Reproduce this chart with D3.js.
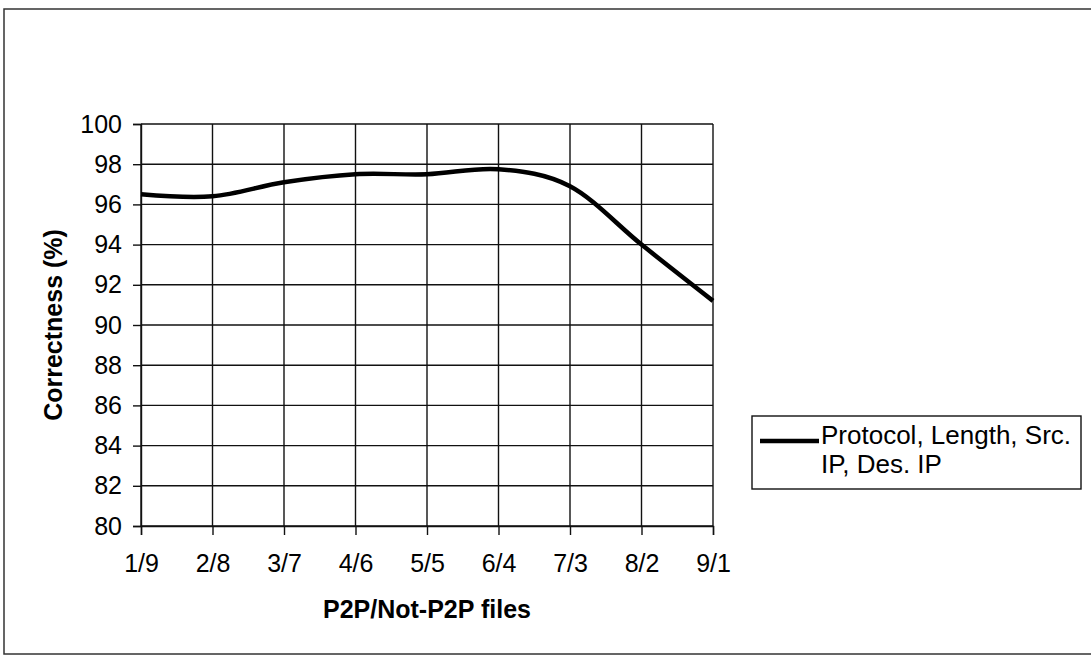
<!DOCTYPE html>
<html>
<head>
<meta charset="utf-8">
<script src="https://cdn.jsdelivr.net/npm/d3@7"></script>
<style>
  body { margin: 0; background: #fff; }
  svg { display: block; font-family: "Liberation Sans", Arial, sans-serif; }
</style>
</head>
<body>
<svg id="chart" width="1091" height="655"></svg>
<script>
// chart data
const categories = ["1/9", "2/8", "3/7", "4/6", "5/5", "6/4", "7/3", "8/2", "9/1"];
const correctness = [96.5, 96.4, 97.1, 97.5, 97.5, 97.75, 96.9, 94.0, 91.2];
const yTicks = [80, 82, 84, 86, 88, 90, 92, 94, 96, 98, 100];
const seriesName = ["Protocol, Length, Src.", "IP, Des. IP"];

const width = 1091, height = 655;
const plot = { left: 141, right: 713, top: 124, bottom: 526 };

let svg = d3.select("#chart");

// outer frame (right side runs off the picture like in the scan)
svg.append("rect")
    .attr("x", 4).attr("y", 9)
    .attr("width", 1100).attr("height", 645)
    .style("fill", "none")
    .style("stroke", "#333")
    .style("stroke-width", 1.5);

let x = d3.scalePoint()
    .domain(categories)
    .range([plot.left, plot.right])
    .padding(0);

let y = d3.scaleLinear()
    .domain([80, 100])
    .range([plot.bottom, plot.top]);

// grid
let grid = svg.append("g");
grid.selectAll("line.h")
    .data(yTicks)
    .enter().append("line")
    .attr("class", "h")
    .attr("x1", plot.left).attr("x2", plot.right)
    .attr("y1", d => y(d)).attr("y2", d => y(d))
    .style("stroke", "#111").style("stroke-width", 1.4);
grid.selectAll("line.v")
    .data(categories)
    .enter().append("line")
    .attr("class", "v")
    .attr("x1", d => x(d)).attr("x2", d => x(d))
    .attr("y1", plot.top).attr("y2", plot.bottom)
    .style("stroke", "#111").style("stroke-width", 1.4);

// axes
let yAxis = svg.append("g")
    .attr("transform", "translate(" + plot.left + ",0)")
    .call(d3.axisLeft(y).tickValues(yTicks).tickSize(8).tickPadding(11));
let xAxis = svg.append("g")
    .attr("transform", "translate(0," + plot.bottom + ")")
    .call(d3.axisBottom(x).tickSize(9).tickPadding(19));

[yAxis, xAxis].forEach(a => {
    a.select(".domain").style("stroke", "#111").style("stroke-width", 1.4);
    a.selectAll(".tick line").style("stroke", "#111").style("stroke-width", 1.4);
    a.selectAll(".tick text")
        .style("font-family", "'Liberation Sans', Arial, sans-serif")
        .style("font-size", "25px")
        .style("fill", "#000");
});

// axis titles
svg.append("text")
    .attr("x", (plot.left + plot.right) / 2)
    .attr("y", 618)
    .attr("text-anchor", "middle")
    .style("font-size", "25px")
    .style("font-weight", "bold")
    .text("P2P/Not-P2P files");

svg.append("text")
    .attr("transform", "translate(62," + (plot.top + plot.bottom) / 2 + ") rotate(-90)")
    .attr("text-anchor", "middle")
    .style("font-size", "25px")
    .style("font-weight", "bold")
    .text("Correctness (%)");

// series line
let line = d3.line()
    .x((d, i) => x(categories[i]))
    .y(d => y(d))
    .curve(d3.curveCatmullRom.alpha(0));

svg.append("path")
    .datum(correctness)
    .attr("d", line)
    .style("fill", "none")
    .style("stroke", "#000")
    .style("stroke-width", 4.5)
    .style("stroke-linejoin", "round");

// legend
let legend = svg.append("g");
legend.append("rect")
    .attr("x", 752).attr("y", 416)
    .attr("width", 329).attr("height", 73)
    .style("fill", "#fff")
    .style("stroke", "#111")
    .style("stroke-width", 1.4);
legend.append("line")
    .attr("x1", 760).attr("x2", 819)
    .attr("y1", 441).attr("y2", 441)
    .style("stroke", "#000").style("stroke-width", 4.5);
legend.selectAll("text")
    .data(seriesName)
    .enter().append("text")
    .attr("x", 821)
    .attr("y", (d, i) => 444 + i * 29)
    .style("font-size", "26px")
    .text(d => d);
</script>
</body>
</html>
